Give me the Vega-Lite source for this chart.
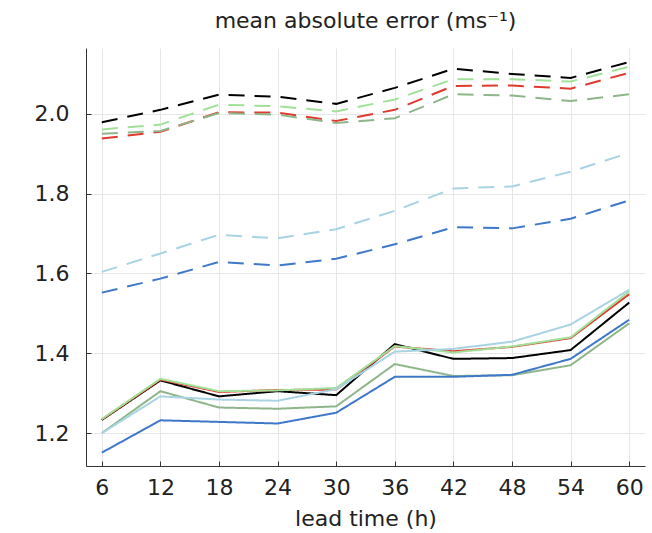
{
  "$schema": "https://vega.github.io/schema/vega-lite/v6.json",
  "width": 559,
  "height": 418,
  "autosize": "none",
  "padding": {"left": 86, "top": 48, "right": 7, "bottom": 67},
  "background": "white",
  "title": {"text": "mean absolute error (ms⁻¹)", "fontSize": 22, "font": "DejaVu Sans", "fontWeight": "normal", "color": "#222", "anchor": "middle", "offset": 15},
  "config": {"view": {"stroke": null}, "font": "DejaVu Sans"},
  "datasets": {
    "mae": [
      {"variant":"reference","model":"A","lead":6,"mae":1.979},{"variant":"reference","model":"A","lead":12,"mae":2.010},{"variant":"reference","model":"A","lead":18,"mae":2.048},{"variant":"reference","model":"A","lead":24,"mae":2.043},{"variant":"reference","model":"A","lead":30,"mae":2.025},{"variant":"reference","model":"A","lead":36,"mae":2.065},{"variant":"reference","model":"A","lead":42,"mae":2.113},{"variant":"reference","model":"A","lead":48,"mae":2.100},{"variant":"reference","model":"A","lead":54,"mae":2.090},{"variant":"reference","model":"A","lead":60,"mae":2.130},
      {"variant":"reference","model":"B","lead":6,"mae":1.938},{"variant":"reference","model":"B","lead":12,"mae":1.955},{"variant":"reference","model":"B","lead":18,"mae":2.004},{"variant":"reference","model":"B","lead":24,"mae":2.003},{"variant":"reference","model":"B","lead":30,"mae":1.982},{"variant":"reference","model":"B","lead":36,"mae":2.010},{"variant":"reference","model":"B","lead":42,"mae":2.070},{"variant":"reference","model":"B","lead":48,"mae":2.071},{"variant":"reference","model":"B","lead":54,"mae":2.063},{"variant":"reference","model":"B","lead":60,"mae":2.103},
      {"variant":"reference","model":"C","lead":6,"mae":1.961},{"variant":"reference","model":"C","lead":12,"mae":1.973},{"variant":"reference","model":"C","lead":18,"mae":2.023},{"variant":"reference","model":"C","lead":24,"mae":2.019},{"variant":"reference","model":"C","lead":30,"mae":2.006},{"variant":"reference","model":"C","lead":36,"mae":2.036},{"variant":"reference","model":"C","lead":42,"mae":2.087},{"variant":"reference","model":"C","lead":48,"mae":2.087},{"variant":"reference","model":"C","lead":54,"mae":2.081},{"variant":"reference","model":"C","lead":60,"mae":2.118},
      {"variant":"reference","model":"D","lead":6,"mae":1.950},{"variant":"reference","model":"D","lead":12,"mae":1.957},{"variant":"reference","model":"D","lead":18,"mae":2.002},{"variant":"reference","model":"D","lead":24,"mae":1.998},{"variant":"reference","model":"D","lead":30,"mae":1.977},{"variant":"reference","model":"D","lead":36,"mae":1.989},{"variant":"reference","model":"D","lead":42,"mae":2.049},{"variant":"reference","model":"D","lead":48,"mae":2.046},{"variant":"reference","model":"D","lead":54,"mae":2.032},{"variant":"reference","model":"D","lead":60,"mae":2.049},
      {"variant":"reference","model":"E","lead":6,"mae":1.604},{"variant":"reference","model":"E","lead":12,"mae":1.650},{"variant":"reference","model":"E","lead":18,"mae":1.697},{"variant":"reference","model":"E","lead":24,"mae":1.688},{"variant":"reference","model":"E","lead":30,"mae":1.711},{"variant":"reference","model":"E","lead":36,"mae":1.757},{"variant":"reference","model":"E","lead":42,"mae":1.813},{"variant":"reference","model":"E","lead":48,"mae":1.818},{"variant":"reference","model":"E","lead":54,"mae":1.855},{"variant":"reference","model":"E","lead":60,"mae":1.902},
      {"variant":"reference","model":"F","lead":6,"mae":1.552},{"variant":"reference","model":"F","lead":12,"mae":1.587},{"variant":"reference","model":"F","lead":18,"mae":1.629},{"variant":"reference","model":"F","lead":24,"mae":1.620},{"variant":"reference","model":"F","lead":30,"mae":1.637},{"variant":"reference","model":"F","lead":36,"mae":1.673},{"variant":"reference","model":"F","lead":42,"mae":1.716},{"variant":"reference","model":"F","lead":48,"mae":1.713},{"variant":"reference","model":"F","lead":54,"mae":1.737},{"variant":"reference","model":"F","lead":60,"mae":1.783},
      {"variant":"model","model":"A","lead":6,"mae":1.233},{"variant":"model","model":"A","lead":12,"mae":1.332},{"variant":"model","model":"A","lead":18,"mae":1.292},{"variant":"model","model":"A","lead":24,"mae":1.305},{"variant":"model","model":"A","lead":30,"mae":1.295},{"variant":"model","model":"A","lead":36,"mae":1.423},{"variant":"model","model":"A","lead":42,"mae":1.386},{"variant":"model","model":"A","lead":48,"mae":1.388},{"variant":"model","model":"A","lead":54,"mae":1.408},{"variant":"model","model":"A","lead":60,"mae":1.527},
      {"variant":"model","model":"B","lead":6,"mae":1.234},{"variant":"model","model":"B","lead":12,"mae":1.334},{"variant":"model","model":"B","lead":18,"mae":1.303},{"variant":"model","model":"B","lead":24,"mae":1.308},{"variant":"model","model":"B","lead":30,"mae":1.309},{"variant":"model","model":"B","lead":36,"mae":1.417},{"variant":"model","model":"B","lead":42,"mae":1.405},{"variant":"model","model":"B","lead":48,"mae":1.416},{"variant":"model","model":"B","lead":54,"mae":1.438},{"variant":"model","model":"B","lead":60,"mae":1.548},
      {"variant":"model","model":"C","lead":6,"mae":1.235},{"variant":"model","model":"C","lead":12,"mae":1.336},{"variant":"model","model":"C","lead":18,"mae":1.305},{"variant":"model","model":"C","lead":24,"mae":1.307},{"variant":"model","model":"C","lead":30,"mae":1.313},{"variant":"model","model":"C","lead":36,"mae":1.418},{"variant":"model","model":"C","lead":42,"mae":1.402},{"variant":"model","model":"C","lead":48,"mae":1.417},{"variant":"model","model":"C","lead":54,"mae":1.440},{"variant":"model","model":"C","lead":60,"mae":1.555},
      {"variant":"model","model":"D","lead":6,"mae":1.200},{"variant":"model","model":"D","lead":12,"mae":1.305},{"variant":"model","model":"D","lead":18,"mae":1.264},{"variant":"model","model":"D","lead":24,"mae":1.261},{"variant":"model","model":"D","lead":30,"mae":1.267},{"variant":"model","model":"D","lead":36,"mae":1.373},{"variant":"model","model":"D","lead":42,"mae":1.343},{"variant":"model","model":"D","lead":48,"mae":1.345},{"variant":"model","model":"D","lead":54,"mae":1.370},{"variant":"model","model":"D","lead":60,"mae":1.475},
      {"variant":"model","model":"E","lead":6,"mae":1.200},{"variant":"model","model":"E","lead":12,"mae":1.292},{"variant":"model","model":"E","lead":18,"mae":1.284},{"variant":"model","model":"E","lead":24,"mae":1.281},{"variant":"model","model":"E","lead":30,"mae":1.310},{"variant":"model","model":"E","lead":36,"mae":1.404},{"variant":"model","model":"E","lead":42,"mae":1.411},{"variant":"model","model":"E","lead":48,"mae":1.429},{"variant":"model","model":"E","lead":54,"mae":1.472},{"variant":"model","model":"E","lead":60,"mae":1.559},
      {"variant":"model","model":"F","lead":6,"mae":1.151},{"variant":"model","model":"F","lead":12,"mae":1.232},{"variant":"model","model":"F","lead":18,"mae":1.228},{"variant":"model","model":"F","lead":24,"mae":1.224},{"variant":"model","model":"F","lead":30,"mae":1.251},{"variant":"model","model":"F","lead":36,"mae":1.341},{"variant":"model","model":"F","lead":42,"mae":1.341},{"variant":"model","model":"F","lead":48,"mae":1.346},{"variant":"model","model":"F","lead":54,"mae":1.386},{"variant":"model","model":"F","lead":60,"mae":1.484}
    ]
  },
  "data": {"name": "mae"},
  "mark": {"type": "line", "strokeWidth": 2, "clip": true},
  "encoding": {
    "x": {
      "field": "lead", "type": "quantitative",
      "scale": {"domain": [4.38, 61.62], "nice": false, "zero": false},
      "axis": {"title": "lead time (h)", "values": [6,12,18,24,30,36,42,48,54,60], "labelFontSize": 22, "titleFontSize": 22, "titleFontWeight": "normal", "labelColor": "#222", "titleColor": "#222", "domainColor": "#333", "tickColor": "#333", "tickSize": -5, "labelPadding": 16, "titlePadding": 10, "gridColor": "#e6e6e6", "labelFlush": false}
    },
    "y": {
      "field": "mae", "type": "quantitative",
      "scale": {"domain": [1.1175, 2.165], "nice": false, "zero": false},
      "axis": {"title": null, "values": [1.2,1.4,1.6,1.8,2.0], "format": ".1f", "labelFontSize": 22, "labelColor": "#222", "domainColor": "#333", "tickColor": "#333", "tickSize": -5, "labelPadding": 22, "gridColor": "#e6e6e6", "labelFlush": false}
    },
    "color": {
      "field": "model", "type": "nominal", "legend": null,
      "scale": {"domain": ["A","B","C","D","E","F"], "range": ["#000000","#e03a2f","#a2e09a","#8fb58a","#a9d3e3","#3f78c9"]}
    },
    "strokeDash": {
      "field": "variant", "type": "nominal", "legend": null,
      "scale": {"domain": ["reference","model"], "range": [[16,10],[1,0]]}
    },
    "detail": {"field": "variant"}
  }
}
